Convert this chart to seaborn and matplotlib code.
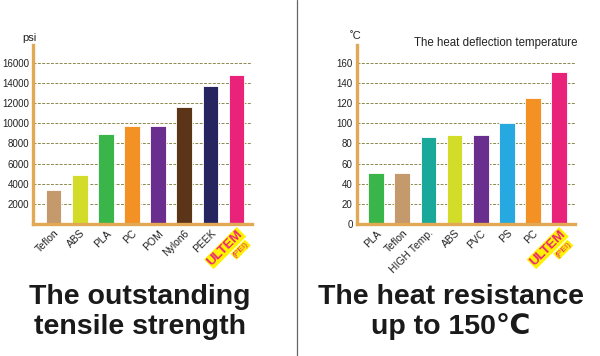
import pandas as pd
import seaborn as sns
import matplotlib.pyplot as plt

# Tensile strength (psi)
tensile_materials = ['Teflon', 'ABS', 'PLA', 'PC', 'POM', 'Nylon6', 'PEEK', 'ULTEM']
tensile_values = [3350, 4900, 8900, 9700, 9700, 11600, 13750, 14800]
tensile_ticks = [2000, 4000, 6000, 8000, 10000, 12000, 14000, 16000]

# Heat deflection temperature (C)
heat_materials = ['PLA', 'Teflon', 'HIGH Temp.', 'ABS', 'PVC', 'PS', 'PC', 'ULTEM']
heat_values = [51, 51, 86, 88, 88, 100, 125, 151]
heat_ticks = [0, 20, 40, 60, 80, 100, 120, 140, 160]

colors = {
    'Teflon': '#C4996B', 'ABS': '#D4DC2A', 'PLA': '#39B54A', 'PC': '#F39124',
    'POM': '#6A2F8E', 'Nylon6': '#5C3518', 'PEEK': '#27255F', 'ULTEM': '#EA237A',
    'HIGH Temp.': '#1AA89B', 'PVC': '#6A2F8E', 'PS': '#26A9E0',
}

AXIS_COLOR = '#E2A955'
GRID_COLOR = '#8C8A4E'

sns.set_style("white")
plt.rcParams['font.family'] = ['Liberation Sans', 'DejaVu Sans']

fig = plt.figure(figsize=(6, 3.56), dpi=100)
ax1 = fig.add_axes([0.055, 0.371, 0.365, 0.503])
ax2 = fig.add_axes([0.5945, 0.371, 0.364, 0.503])


def draw_panel(ax, materials, values, ticks, ylim, xlim):
    df = pd.DataFrame({'material': materials, 'value': values})
    sns.barplot(data=df, x='material', y='value', hue='material', palette=colors,
                legend=False, width=0.6, saturation=1, ax=ax, edgecolor='white', linewidth=0.6)
    ax.set_ylim(*ylim)
    ax.set_xlim(*xlim)
    ax.set_xlabel('')
    ax.set_ylabel('')
    ax.set_yticks(ticks)
    ax.set_yticklabels([str(t) for t in ticks], fontsize=7, color='#222222')
    for t in ticks:
        if t > 0:
            ax.axhline(t, color=GRID_COLOR, lw=0.7, ls=(0, (3, 1.5)), zorder=0)
    for s in ['top', 'right']:
        ax.spines[s].set_visible(False)
    for s in ['left', 'bottom']:
        ax.spines[s].set_color(AXIS_COLOR)
        ax.spines[s].set_linewidth(2.4)
    ax.tick_params(axis='both', length=0, pad=3)
    ax.set_xticks(range(len(materials)))
    ax.set_xticklabels(materials, rotation=45, ha='right', rotation_mode='anchor',
                       fontsize=7.5, color='#222222')
    lab = ax.get_xticklabels()[-1]
    lab.set_color('#EA237A')
    lab.set_fontweight('bold')
    lab.set_fontsize(9.5)
    lab.set_bbox(dict(facecolor='#FFF200', edgecolor='none', pad=0.6))
    ax.annotate('(PEI)', xy=(len(materials) - 1, 0), xycoords=('data', 'axes fraction'),
                xytext=(6, -12), textcoords='offset points', rotation=45,
                rotation_mode='anchor', ha='right', va='top', fontsize=6,
                color='#EA237A', bbox=dict(facecolor='#FFF200', edgecolor='none', pad=0.5))


draw_panel(ax1, tensile_materials, tensile_values, tensile_ticks, (0, 17800), (-0.79, 7.59))
draw_panel(ax2, heat_materials, heat_values, heat_ticks, (0, 178), (-0.74, 7.61))

fig.text(22 / 600, 1 - 38 / 356, 'psi', fontsize=8, color='#222222', ha='left', va='center')
fig.text(350 / 600, 1 - 36 / 356, '\u02daC', fontsize=8, color='#222222', ha='left', va='center')
fig.text(496 / 600, 1 - 43 / 356, 'The heat deflection temperature', fontsize=8.3,
         color='#222222', ha='center', va='center')

title_kw = dict(fontsize=20.5, fontweight='bold', color='#1A1A1A', ha='center',
                va='center', linespacing=1.15)
fig.text(140 / 600, 1 - 312 / 356, 'The outstanding\ntensile strength', **title_kw)
fig.text(451 / 600, 1 - 312 / 356, 'The heat resistance\nup to 150\u2103', **title_kw)

# divider between the panels
fig.add_artist(plt.Line2D([297 / 600, 297 / 600], [0, 1], color='#666666', lw=0.9))

fig.savefig('out.png', dpi=100)
